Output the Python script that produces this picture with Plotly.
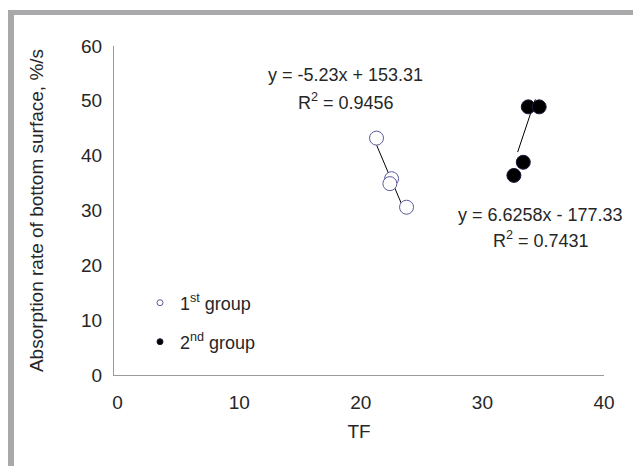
import plotly.graph_objects as go

# ---- data ----
g1_tf = [21.29, 22.53, 22.39, 23.76]
g1_rate = [43.2, 35.8, 34.9, 30.6]
g2_tf = [33.77, 34.67, 33.36, 32.59]
g2_rate = [48.9, 48.9, 38.8, 36.4]

trend1_slope, trend1_icpt = -5.23, 153.31
trend2_slope, trend2_icpt = 6.6258, -177.33
trend1_xrange = [21.3, 23.65]
trend2_xrange = [32.9, 34.35]

eq1_text = ["y = -5.23x + 153.31", "R<sup>2</sup> = 0.9456"]
eq2_text = ["y = 6.6258x - 177.33", "R<sup>2</sup> = 0.7431"]
x_ticks = [0, 10, 20, 30, 40]
y_ticks = [0, 10, 20, 30, 40, 50, 60]

FONT = "Liberation Sans, Arial, sans-serif"
TXT = "#262626"

# the page body adds an 8px margin, so the figure is laid out 8px smaller
OFF = 8
W, H = 641 - OFF, 466 - OFF
L = 114 - OFF
R = 641 - 604
T = 46 - OFF
B = 466 - 375
PW, PH = W - L - R, H - T - B


def px2paper_x(px):  # px in reference-window coordinates
    return (px - OFF - L) / PW


def px2paper_y(py):
    return (H - B - (py - OFF)) / PH


fig = go.Figure()

# trend lines
t1y = [trend1_slope * x + trend1_icpt for x in trend1_xrange]
t2y = [trend2_slope * x + trend2_icpt for x in trend2_xrange]
fig.add_trace(go.Scatter(x=trend1_xrange, y=t1y, mode="lines",
                         line=dict(color="black", width=1), showlegend=False))
fig.add_trace(go.Scatter(x=trend2_xrange, y=t2y, mode="lines",
                         line=dict(color="black", width=1), showlegend=False))

# data points
fig.add_trace(go.Scatter(x=g1_tf, y=g1_rate, mode="markers", showlegend=False,
                         marker=dict(symbol="circle", size=14, color="white",
                                     line=dict(color="#5b5b9c", width=1))))
fig.add_trace(go.Scatter(x=g2_tf, y=g2_rate, mode="markers", showlegend=False,
                         marker=dict(symbol="circle", size=14, color="black",
                                     line=dict(color="#1a1a3a", width=1))))

# legend entries (small symbols)
fig.add_trace(go.Scatter(x=[None], y=[None], mode="markers", name="1<sup>st</sup> group",
                         legend="legend",
                         marker=dict(symbol="circle", size=6, color="white",
                                     line=dict(color="#5b5b9c", width=1))))
fig.add_trace(go.Scatter(x=[None], y=[None], mode="markers", name="2<sup>nd</sup> group",
                         legend="legend2",
                         marker=dict(symbol="circle", size=6, color="black",
                                     line=dict(color="#1a1a3a", width=1))))

annotations = []
for (xv, yv, txt) in [(18.77, 54.8, eq1_text[0]), (18.77, 49.9, eq1_text[1]),
                      (34.8, 29.2, eq2_text[0]), (34.8, 24.8, eq2_text[1])]:
    annotations.append(dict(x=xv, y=yv, xref="x", yref="y", text=txt, showarrow=False,
                            font=dict(family=FONT, size=18, color=TXT),
                            xanchor="center", yanchor="middle"))

shapes = [
    # frame: top bar and left bar
    dict(type="rect", xref="paper", yref="paper", layer="above",
         x0=px2paper_x(8), x1=px2paper_x(660), y0=px2paper_y(15), y1=px2paper_y(10),
         fillcolor="#a9a9ac", line=dict(width=0)),
    dict(type="rect", xref="paper", yref="paper", layer="above",
         x0=px2paper_x(8), x1=px2paper_x(14), y0=px2paper_y(480), y1=px2paper_y(10),
         fillcolor="#a9a9ac", line=dict(width=0)),
]

legend_common = dict(bgcolor="rgba(0,0,0,0)", borderwidth=0,
                     font=dict(family=FONT, size=18, color=TXT),
                     xanchor="left", yanchor="middle", itemwidth=30)

fig.update_layout(
    width=W, height=H,
    margin=dict(l=L, r=R, t=T, b=B, pad=0),
    paper_bgcolor="white", plot_bgcolor="white",
    font=dict(family=FONT, size=19, color=TXT),
    legend=dict(x=px2paper_x(140), y=px2paper_y(303), **legend_common),
    legend2=dict(x=px2paper_x(140), y=px2paper_y(342), **legend_common),
    annotations=annotations,
    shapes=shapes,
    xaxis=dict(range=[-0.3, 40], tickvals=x_ticks, showgrid=False, zeroline=False,
               showline=True, linecolor="#9a9a9a", linewidth=1, ticks="",
               ticklabelstandoff=10,
               tickfont=dict(family=FONT, size=19, color=TXT),
               title=dict(text="TF", standoff=12,
                          font=dict(family=FONT, size=19, color=TXT))),
    yaxis=dict(range=[0, 60], tickvals=y_ticks, showgrid=False, zeroline=False,
               showline=True, linecolor="#9a9a9a", linewidth=1, ticks="",
               ticklabelstandoff=7,
               tickfont=dict(family=FONT, size=19, color=TXT),
               title=dict(text="Absorption rate of bottom surface, %/s", standoff=32,
                          font=dict(family=FONT, size=19, color=TXT))),
)

fig.write_html("out.html")
